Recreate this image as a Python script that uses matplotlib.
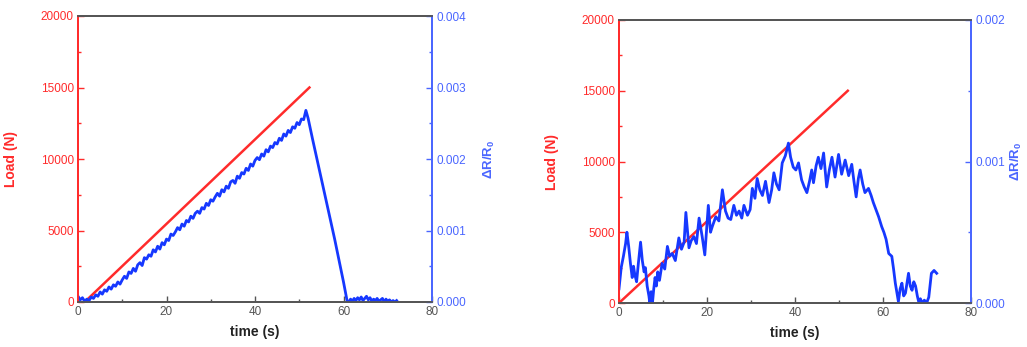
import matplotlib
matplotlib.use('Agg')
import matplotlib.pyplot as plt
from matplotlib.ticker import MultipleLocator, FormatStrFormatter

plt.rcParams['font.family'] = ['Liberation Sans', 'DejaVu Sans']
plt.rcParams['mathtext.fontset'] = 'custom'
plt.rcParams['mathtext.rm'] = 'Liberation Sans'
plt.rcParams['mathtext.bf'] = 'Liberation Sans:bold'

RED = '#ff2b2b'
BLUE_LINE = '#1638ff'
BLUE_AX = '#4a66ff'
GREY = '#555555'

# left panel: load ramp (s, N)
load_t_a = [1.5, 52.3]
load_a = [0, 15000]

# left panel: dR/R0 (x1e-3), sampled every 0.5 s up to 52 s, then read points
res_t_a = [i * 0.5 for i in range(105)] + [
    53, 54, 55, 56, 57, 58, 59, 60, 60.8,
    61.2, 61.6, 62, 62.4, 62.8, 63.2, 63.6, 64, 64.4, 64.8, 65.2, 65.6, 66,
    66.4, 66.8, 67.2, 67.6, 68, 68.4, 68.8, 69.2, 69.6, 70, 70.4, 70.8,
    71.2, 71.6, 72]
res_a = [
    0.08, 0.03, 0.06, 0.01, 0.04, 0.02, 0.07, 0.05, 0.10, 0.08,
    0.14, 0.11, 0.17, 0.15, 0.21, 0.18, 0.24, 0.22, 0.28, 0.25,
    0.31, 0.36, 0.33, 0.42, 0.40, 0.47, 0.43, 0.52, 0.55, 0.51,
    0.62, 0.60, 0.66, 0.64, 0.73, 0.70, 0.78, 0.74, 0.83, 0.80,
    0.88, 0.86, 0.95, 0.93, 0.98, 1.04, 1.01, 1.09, 1.06, 1.14,
    1.12, 1.20, 1.17, 1.24, 1.27, 1.24, 1.32, 1.30, 1.38, 1.35,
    1.43, 1.41, 1.47, 1.52, 1.48, 1.57, 1.54, 1.62, 1.59, 1.68,
    1.70, 1.66, 1.76, 1.73, 1.81, 1.79, 1.87, 1.84, 1.93, 1.90,
    1.98, 2.02, 1.99, 2.07, 2.04, 2.13, 2.10, 2.18, 2.16, 2.23,
    2.21, 2.29, 2.26, 2.35, 2.32, 2.40, 2.37, 2.45, 2.43, 2.51,
    2.48, 2.56, 2.55, 2.68, 2.57,
    2.28, 2.00, 1.72, 1.44, 1.16, 0.88, 0.58, 0.28, 0.02,
    0.00, 0.04, 0.01, 0.05, 0.02, 0.06, 0.03, 0.07, 0.02, 0.05, 0.08, 0.03,
    0.06, 0.01, 0.04, 0.02, 0.05, 0.01, 0.03, 0.05, 0.00, 0.04, 0.01,
    0.03, 0.00, 0.02, 0.00, 0.02]

# right panel: load ramp
load_t_b = [0, 52]
load_b = [0, 15000]

# right panel: dR/R0 (x1e-3)
res_t_b = [
    0.0, 0.5, 1.0, 1.5, 1.8, 2.2, 2.6, 3.0, 3.3, 3.6, 4.0, 4.4, 4.9, 5.3,
    5.7, 6.0, 6.4, 6.8, 7.0, 7.3, 7.6, 7.9, 8.2, 8.5, 8.8, 9.2, 9.8, 10.4,
    11.0, 11.5, 12.1, 12.8, 13.6, 14.2, 14.8, 15.2, 15.9, 16.4, 17.0, 17.6,
    18.2, 18.9, 19.5, 20.3, 20.8, 21.2, 22.0, 22.7, 23.5, 24.2, 24.8, 25.4,
    26.1, 26.7, 27.3, 27.9, 28.4, 29.2, 29.8, 30.3, 30.9, 31.4, 32.0, 32.6,
    33.3, 34.1, 34.7, 35.2, 35.8, 36.4, 37.1, 37.8, 38.5, 39.0, 39.6, 40.2,
    40.8, 41.5, 42.1, 42.7, 43.3, 43.8, 44.2, 44.8, 45.3, 45.9, 46.5, 47.2,
    47.8, 48.4, 49.1, 49.9, 50.6, 51.4, 52.2, 52.9, 53.4, 53.9, 54.4, 54.8,
    55.4, 55.9, 56.7, 57.3, 57.8, 58.4, 59.0, 59.7, 60.2, 60.7, 61.3, 62.0,
    62.4, 62.8, 63.5, 63.9, 64.3, 64.7, 65.1, 65.5, 65.8, 66.2, 66.6, 67.0,
    67.4, 67.8, 68.1, 68.5, 68.9, 69.4, 69.9, 70.4, 71.0, 71.6, 72.2]
res_b = [
    0.10, 0.25, 0.33, 0.42, 0.50, 0.40, 0.28, 0.18, 0.26, 0.20, 0.15, 0.28,
    0.43, 0.30, 0.22, 0.25, 0.12, 0.05, 0.00, 0.08, 0.00, 0.10, 0.18, 0.12,
    0.22, 0.16, 0.28, 0.24, 0.40, 0.33, 0.35, 0.30, 0.46, 0.38, 0.43, 0.64,
    0.39, 0.44, 0.47, 0.42, 0.60, 0.47, 0.34, 0.69, 0.50, 0.54, 0.61, 0.58,
    0.80, 0.65, 0.60, 0.59, 0.69, 0.62, 0.65, 0.60, 0.69, 0.62, 0.66, 0.81,
    0.74, 0.88, 0.80, 0.76, 0.86, 0.71, 0.80, 0.92, 0.84, 0.80, 0.99, 1.04,
    1.13, 1.03, 0.96, 0.94, 0.99, 0.87, 0.82, 0.78, 0.86, 0.94, 0.85, 0.97,
    1.03, 0.95, 1.06, 0.82, 0.94, 1.03, 0.89, 1.05, 0.91, 1.01, 0.90, 0.98,
    0.86, 0.75, 0.88, 0.94, 0.84, 0.78, 0.81, 0.76, 0.71, 0.66, 0.61, 0.54,
    0.50, 0.45, 0.35, 0.33, 0.24, 0.14, 0.01, 0.10, 0.14, 0.05, 0.07, 0.15,
    0.21, 0.12, 0.09, 0.15, 0.12, 0.05, 0.01, 0.03, 0.00, 0.02, 0.00, 0.04,
    0.21, 0.23, 0.21]

W, H = 1027, 347
fig = plt.figure(figsize=(W / 100, H / 100), dpi=100)


def panel(box, lt, lv, rt, rv, rtop, rlabel_x, llabel_x):
    x0, y0, x1, y1 = box
    ax = fig.add_axes([x0 / W, (H - y1) / H, (x1 - x0) / W, (y1 - y0) / H])
    ax2 = ax.twinx()
    ax.plot(lt, lv, color=RED, lw=1.8, zorder=3)
    ax2.plot(rt, [v / 1000 for v in rv], color=BLUE_LINE, lw=2.0)

    ax.set_xlim(0, 80)
    ax.set_ylim(0, 20000)
    ax2.set_ylim(0, rtop)
    ax.xaxis.set_major_locator(MultipleLocator(20))
    ax.xaxis.set_minor_locator(MultipleLocator(10))
    ax.yaxis.set_major_locator(MultipleLocator(5000))
    ax.yaxis.set_minor_locator(MultipleLocator(2500))
    ax2.yaxis.set_major_locator(MultipleLocator(0.001))
    ax2.yaxis.set_minor_locator(MultipleLocator(0.0005))
    ax2.yaxis.set_major_formatter(FormatStrFormatter('%.3f'))

    for a in (ax, ax2):
        a.spines['top'].set_color(GREY)
        a.spines['bottom'].set_color(GREY)
        a.spines['left'].set_color(RED)
        a.spines['right'].set_color(BLUE_AX)
        for s in a.spines.values():
            s.set_linewidth(1.3)
    ax.tick_params(axis='x', which='both', direction='in', colors=GREY,
                   labelsize=8.5, pad=3, top=False)
    ax.tick_params(axis='x', which='major', length=4, width=1)
    ax.tick_params(axis='x', which='minor', length=2, width=1)
    ax.tick_params(axis='y', which='both', direction='in', colors=RED,
                   labelsize=8.5, pad=3)
    ax.tick_params(axis='y', which='major', length=4, width=1)
    ax.tick_params(axis='y', which='minor', length=2, width=1)
    ax2.tick_params(axis='y', which='both', direction='in', colors=BLUE_AX,
                    labelsize=8.5, pad=3)
    ax2.tick_params(axis='y', which='major', length=4, width=1)
    ax2.tick_params(axis='y', which='minor', length=2, width=1)

    ax.set_xlabel('time (s)', fontsize=10, fontweight='bold', color='#222222',
                  labelpad=5)
    ax.set_ylabel('Load (N)', fontsize=10, fontweight='bold', color=RED)
    ax.yaxis.set_label_coords((llabel_x - x0) / (x1 - x0), 0.5)
    ax2.set_ylabel(r'$\mathbf{\Delta R/R_0}$', fontsize=9.5, color=BLUE_AX)
    ax2.yaxis.set_label_coords((rlabel_x - x0) / (x1 - x0), 0.5)
    return ax, ax2


panel((78, 16, 432, 302), load_t_a, load_a, res_t_a, res_a, 0.004, 482, 18)
panel((619, 20, 971, 303), load_t_b, load_b, res_t_b, res_b, 0.002, 1009, 559)

fig.savefig('out.png', dpi=100)
